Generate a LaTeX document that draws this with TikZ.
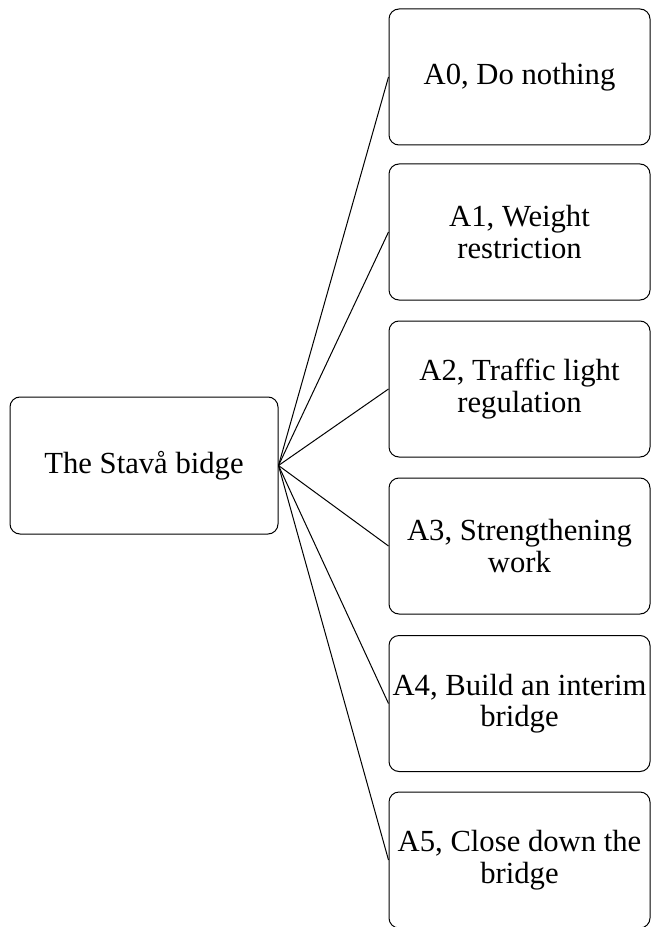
\documentclass[tikz,border=0pt]{standalone}
\usepackage{fontspec}
\setmainfont{Liberation Serif}

\tikzset{every picture/.style={line width=0.75pt}}
\tikzset{
	optbox/.style={draw, rounded corners=7.5pt, minimum width=195.75pt, minimum height=102pt, align=center, inner sep=0.75pt, font=\fontsize{23}{23.5}\selectfont},
	rootbox/.style={draw, rounded corners=7.5pt, minimum width=201pt, minimum height=102.75pt, align=center, inner sep=0.75pt, font=\fontsize{23}{23.5}\selectfont}
}

\begin{document}
\begin{tikzpicture}[x=0.75pt,y=0.75pt,yscale=-1,xscale=1]
	\useasboundingbox (0,0) rectangle (652,927);
	
	%Shape: Root box
	\node [rootbox] (stava) at (144,465.5) {The Stavå bidge};
	
	%Shape: Alternatives
	\node [optbox] (a0) at (519.5,77) {A0, Do nothing};
	\node [optbox] (a1) at (519.5,232) {A1, Weight\\restriction};
	\node [optbox] (a2) at (519.5,389) {A2, Traffic light\\regulation};
	\node [optbox] (a3) at (519.5,546) {A3, Strengthening\\work};
	\node [optbox] (a4) at (519.5,703.5) {A4, Build an interim\\bridge};
	\node [optbox] (a5) at (519.5,860) {A5, Close down the\\bridge};
	
	%Straight Lines
	\draw (stava.east) -- (a0.west);
	\draw (stava.east) -- (a1.west);
	\draw (stava.east) -- (a2.west);
	\draw (stava.east) -- (a3.west);
	\draw (stava.east) -- (a4.west);
	\draw (stava.east) -- (a5.west);
	
\end{tikzpicture}
\end{document}
